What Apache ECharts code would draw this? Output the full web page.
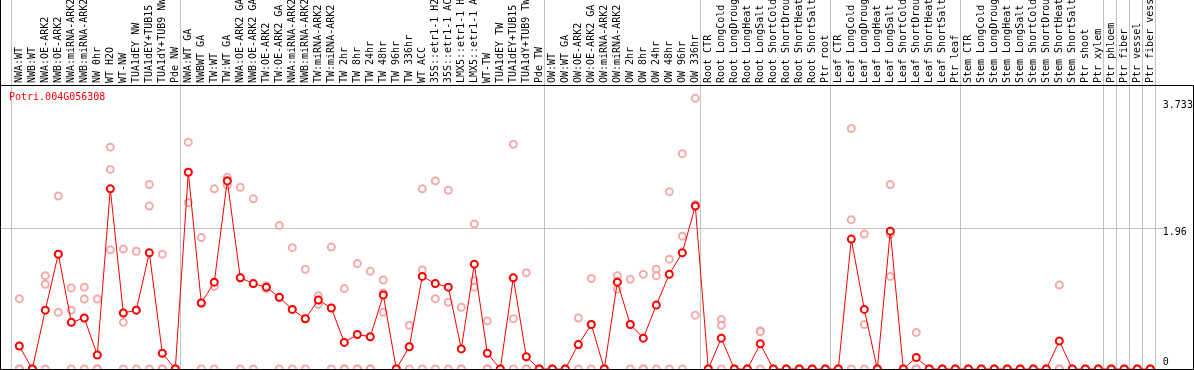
<!DOCTYPE html>
<html><head><meta charset="utf-8">
<script src="https://cdn.jsdelivr.net/npm/echarts@6/dist/echarts.min.js"></script>
<style>html,body{margin:0;padding:0;background:#fff;overflow:hidden}#c{width:1194px;height:370px}</style>
</head><body><div id="c"></div>
<script>
const chartTitle = 'Potri.004G056308';

const categories = [
 'NWA:WT','NWB:WT','NWA:OE-ARK2','NWB:OE-ARK2','NWA:miRNA-ARK2','NWB:miRNA-ARK2','NW 0hr','WT H2O','WT-NW','TUA1dEY NW','TUA1dEY+TUB15','TUA1dY+TUB9 NW','Pde NW',
 'NWA:WT GA','NWBWT GA','TW:WT','TW:WT GA','NWA:OE-ARK2 GA','NWB:OE-ARK2 GA','TW:OE-ARK2','TW:OE-ARK2 GA','NWA:miRNA-ARK2','NWB:miRNA-ARK2','TW:miRNA-ARK2','TW:miRNA-ARK2','TW 2hr','TW 8hr','TW 24hr','TW 48hr','TW 96hr','TW 336hr','WT ACC','35S::etr1-1 H2O','35S::etr1-1 ACC','LMX5::etr1-1 H2O','LMX5::etr1-1 ACC','WT-TW','TUA1dEY TW','TUA1dEY+TUB15','TUA1dY+TUB9 TW','Pde TW',
 'OW:WT','OW:WT GA','OW:OE-ARK2','OW:OE-ARK2 GA','OW:miRNA-ARK2','OW:miRNA-ARK2','OW 2hr','OW 8hr','OW 24hr','OW 48hr','OW 96hr','OW 336hr',
 'Root CTR','Root LongCold','Root LongDrought','Root LongHeat','Root LongSalt','Root ShortCold','Root ShortDrought','Root ShortHeat','Root ShortSalt','Ptr root',
 'Leaf CTR','Leaf LongCold','Leaf LongDrought','Leaf LongHeat','Leaf LongSalt','Leaf ShortCold','Leaf ShortDrought','Leaf ShortHeat','Leaf ShortSalt','Ptr leaf',
 'Stem CTR','Stem LongCold','Stem LongDrought','Stem LongHeat','Stem LongSalt','Stem ShortCold','Stem ShortDrought','Stem ShortHeat','Stem ShortSalt','Ptr shoot','Ptr xylem',
 'Ptr phloem','Ptr fiber','Ptr vessel','Ptr fiber vessel'
];

// sizes of the category groups separated by vertical lines
const groupSizes = [13, 28, 12, 10, 10, 11, 1, 1, 1, 1];

const meanValues = [
 0.32, 0, 0.82, 1.60, 0.65, 0.71, 0.195, 2.51, 0.78, 0.82, 1.62, 0.22, 0,
 2.74, 0.92, 1.21, 2.62, 1.27, 1.19, 1.14, 1.00, 0.83, 0.70, 0.96, 0.85, 0.37, 0.48, 0.45, 1.03, 0, 0.31, 1.29, 1.19, 1.14, 0.28, 1.46, 0.22, 0, 1.27, 0.17, 0,
 0, 0, 0.34, 0.62, 0, 1.21, 0.62, 0.43, 0.89, 1.32, 1.62, 2.27,
 0, 0.43, 0, 0, 0.35, 0, 0, 0, 0, 0,
 0, 1.81, 0.83, 0, 1.92, 0, 0.16, 0, 0, 0,
 0, 0, 0, 0, 0, 0, 0, 0.39, 0, 0, 0,
 0, 0, 0, 0
];

const rep1 = [
 0.98, 0, 1.30, 2.41, 1.13, 1.14, 0.975, 3.09, 1.67, 1.64, 2.57, 1.60, 0,
 3.16, 1.83, 2.51, 2.67, 2.53, 2.37, 1.16, 2.00, 1.69, 1.39, 1.02, 1.70, 1.12, 1.47, 1.36, 1.24, 0, 0.61, 2.51, 2.62, 2.49, 0.86, 2.02, 0.67, 0, 3.13, 1.34, 0,
 0, 0, 0.71, 1.26, 0, 1.30, 1.25, 1.32, 1.39, 2.47, 3.00, 3.77,
 0, 0.69, 0, 0, 0.53, 0, 0, 0, 0, 0,
 0, 3.35, 1.88, 0, 2.57, 0, 0.51, 0, 0, 0,
 0, 0, 0, 0, 0, 0, 0, 1.17, 0, 0, 0,
 0, 0, 0, 0
];
const rep2 = [
 0, 0, 1.18, 0.79, 0.82, 0.975, 0, 2.78, 0.65, 0.82, 2.27, 0, 0,
 2.32, 0.92, 1.15, 2.56, 1.27, 1.19, 1.14, 1.00, 0.83, 0.70, 0.90, 0.85, 0, 0, 0, 0.79, 0, 0.31, 1.38, 0.98, 0.93, 0, 1.23, 0, 0, 0.70, 0, 0,
 0, 0, 0.34, 0.62, 0, 1.11, 0.62, 0, 1.30, 1.53, 1.85, 0.75,
 0, 0.61, 0, 0, 0.52, 0, 0, 0, 0, 0,
 0, 2.08, 0.62, 0, 1.88, 0, 0, 0, 0, 0,
 0, 0, 0, 0, 0, 0, 0, 0, 0, 0, 0,
 0, 0, 0, 0
];
const rep3 = [
 0, 0, 0, 1.60, 0, 0, 0, 1.66, 0, 0, 0, 0, 0,
 2.74, 0, 0, 2.63, 0, 0, 1.12, 0, 0, 0, 0.96, 0, 0, 0, 0, 1.06, 0, 0, 0, 0, 0, 0, 1.14, 0, 0, 0, 0, 0,
 0, 0, 0, 0, 0, 1.22, 0, 0, 0, 0, 0, 2.29,
 0, 0, 0, 0, 0, 0, 0, 0, 0, 0,
 0, 0, 0, 0, 1.29, 0, 0, 0, 0, 0,
 0, 0, 0, 0, 0, 0, 0, 0, 0, 0, 0,
 0, 0, 0, 0
];

const yTickValues = [0, 1.96, 3.733];
const gridLineValue = 1.96;
const yMax = 3.956;

const MONO = '"DejaVu Sans Mono", "Liberation Mono", monospace';

const repData = [];
[rep1, rep2, rep3].forEach(arr => arr.forEach((v, i) => repData.push([i, v])));

const chart = echarts.init(document.getElementById('c'), null, {renderer: 'canvas'});

const option = {
  animation: false,
  backgroundColor: '#fff',
  title: {
    text: chartTitle, left: 9, top: 92, padding: 0,
    textStyle: {color: '#ff0000', fontSize: 10, fontWeight: 'normal', fontFamily: MONO}
  },
  grid: {left: 12.8, right: 37.2, top: 85, bottom: 1, containLabel: false, outerBoundsMode: 'none'},
  xAxis: {
    type: 'category', data: categories, position: 'top', boundaryGap: true,
    axisLine: {show: false}, axisTick: {show: false}, splitLine: {show: false},
    axisLabel: {rotate: 90, interval: 0, margin: 2, color: '#000', fontSize: 10, fontFamily: MONO, hideOverlap: false}
  },
  yAxis: {
    type: 'value', position: 'right', min: 0, max: yMax,
    axisLine: {show: false}, axisTick: {show: false}, splitLine: {show: false},
    axisLabel: {
      customValues: yTickValues, margin: 6, color: '#000', fontSize: 10, fontFamily: MONO,
      verticalAlign: 'middle',
      formatter: v => v === 0 ? '{b|0}' : '{t|' + v + '}',
      rich: {
        t: {fontSize: 10, fontFamily: MONO, color: '#000', lineHeight: 10, padding: [8, 0, 0, 0]},
        b: {fontSize: 10, fontFamily: MONO, color: '#000', lineHeight: 10, padding: [0, 0, 14, 0]}
      }
    }
  },
  series: [
    {
      type: 'scatter', data: repData, symbol: 'emptyCircle', symbolSize: 7, clip: false, z: 2,
      itemStyle: {color: '#f09696', borderColor: '#f09696', borderWidth: 1.2}
    },
    {
      type: 'line', data: meanValues, symbol: 'emptyCircle', symbolSize: 7, clip: false, z: 3,
      showAllSymbol: true,
      lineStyle: {color: '#ff0000', width: 1},
      itemStyle: {color: '#ff0000', borderColor: '#ff0000', borderWidth: 1.6}
    }
  ]
};
chart.setOption(option);

// structural lines (group separators, grid line, frame)
const c0 = chart.convertToPixel({xAxisIndex: 0}, categories[0]);
const c1 = chart.convertToPixel({xAxisIndex: 0}, categories[1]);
const band = c1 - c0;
const y0 = chart.convertToPixel({yAxisIndex: 0}, 0);
const yG = chart.convertToPixel({yAxisIndex: 0}, gridLineValue);
const gray = '#c3c3c3';
const els = [];
let b = 0;
const bounds = [0];
groupSizes.forEach(s => { b += s; bounds.push(b); });
bounds.forEach(k => {
  const x = Math.round(c0 + band * k - band / 2 - 1.6) + 0.5;
  els.push({type: 'line', z: 0, silent: true, shape: {x1: x, y1: 0, x2: x, y2: 370}, style: {stroke: gray, lineWidth: 1}});
});
const yg = Math.round(yG) + 0.5;
els.push({type: 'line', z: 0, silent: true, shape: {x1: 0, y1: yg, x2: 1163, y2: yg}, style: {stroke: gray, lineWidth: 1}});
const yb = Math.round(y0) + 0.5;
els.push({type: 'line', z: 10, silent: true, shape: {x1: 0, y1: 85.5, x2: 1194, y2: 85.5}, style: {stroke: '#000', lineWidth: 1}});
els.push({type: 'line', z: 10, silent: true, shape: {x1: 0.5, y1: 0, x2: 0.5, y2: 370}, style: {stroke: '#000', lineWidth: 1}});
els.push({type: 'line', z: 10, silent: true, shape: {x1: 0, y1: yb, x2: 1194, y2: yb}, style: {stroke: '#000', lineWidth: 1}});
els.push({type: 'line', z: 10, silent: true, shape: {x1: 1193.5, y1: 85, x2: 1193.5, y2: 370}, style: {stroke: '#000', lineWidth: 1}});
chart.setOption({graphic: {elements: els}});
</script>
</body></html>
